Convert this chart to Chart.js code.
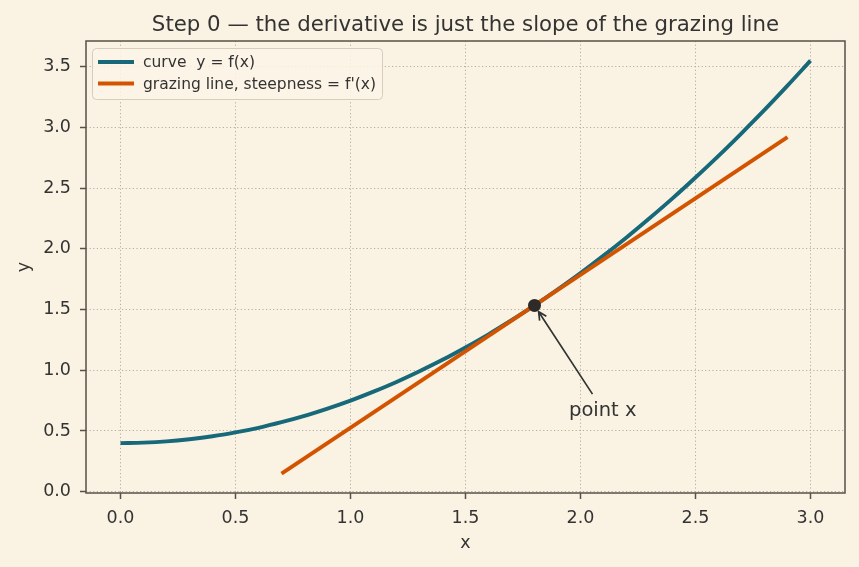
<!DOCTYPE html>
<html>
<head>
<meta charset="utf-8">
<script src="https://cdn.jsdelivr.net/npm/chart.js@4/dist/chart.umd.min.js"></script>
<style>
  html, body { margin: 0; padding: 0; background: #faf3e3; }
  #wrap { width: 859px; height: 567px; }
</style>
</head>
<body>
<div id="wrap"><canvas id="c" width="859" height="567"></canvas></div>
<script>
// ---- data ----
const curveX = [0.0, 0.1, 0.2, 0.3, 0.4, 0.5, 0.6, 0.7, 0.8, 0.9, 1.0, 1.1, 1.2, 1.3, 1.4, 1.5,
                1.6, 1.7, 1.8, 1.9, 2.0, 2.1, 2.2, 2.3, 2.4, 2.5, 2.6, 2.7, 2.8, 2.9, 3.0];
const curveY = [0.400, 0.404, 0.414, 0.432, 0.456, 0.488, 0.526, 0.572, 0.624, 0.684, 0.750,
                0.824, 0.904, 0.992, 1.086, 1.188, 1.296, 1.412, 1.534, 1.664, 1.800, 1.944,
                2.094, 2.252, 2.416, 2.588, 2.766, 2.952, 3.144, 3.344, 3.550];
const lineX = [0.7, 2.9];
const lineY = [0.148, 2.920];
const pointX = [1.8];
const pointY = [1.534];
const xTicks = [0.0, 0.5, 1.0, 1.5, 2.0, 2.5, 3.0];
const yTicks = [0.0, 0.5, 1.0, 1.5, 2.0, 2.5, 3.0, 3.5];
const xTickLabels = ['0.0', '0.5', '1.0', '1.5', '2.0', '2.5', '3.0'];
const yTickLabels = ['0.0', '0.5', '1.0', '1.5', '2.0', '2.5', '3.0', '3.5'];
const seriesNames = ['curve  y = f(x)', "grazing line, steepness = f'(x)"];
const titleText = 'Step 0 \u2014 the derivative is just the slope of the grazing line';
const xLabel = 'x';
const yLabel = 'y';
const annotText = 'point x';
const annotAt = [1.95, 0.625];

// ---- styles ----
const BG = '#faf3e3';
const TEAL = '#17697a';
const ORANGE = '#d35400';
const INK = '#333333';
const SPINE = '#5a5047';
const GRID = '#b5ada0';
const FONT = '"DejaVu Sans", "Liberation Sans", sans-serif';
const LW = 3.9;

const zip = (xs, ys) => xs.map((x, i) => ({ x: x, y: ys[i] }));

const bgPlugin = {
  id: 'bg',
  beforeDraw(chart) {
    const ctx = chart.ctx;
    ctx.save();
    ctx.fillStyle = BG;
    ctx.fillRect(0, 0, chart.width, chart.height);
    ctx.restore();
  }
};

const decoPlugin = {
  id: 'deco',
  afterDraw(chart) {
    const ctx = chart.ctx;
    const a = chart.chartArea;
    const xs = chart.scales.x, ys = chart.scales.y;
    ctx.save();
    // spines
    ctx.strokeStyle = SPINE;
    ctx.lineWidth = 1.5;
    ctx.strokeRect(a.left, a.top, a.right - a.left, a.bottom - a.top);

    // title
    ctx.fillStyle = INK;
    ctx.font = '21.3px ' + FONT;
    ctx.textAlign = 'center';
    ctx.textBaseline = 'alphabetic';
    ctx.fillText(titleText, (a.left + a.right) / 2, 30.5);

    // axis labels
    ctx.font = '17.5px ' + FONT;
    ctx.textBaseline = 'middle';
    ctx.fillText(xLabel, (a.left + a.right) / 2, 543);
    ctx.save();
    ctx.translate(24, (a.top + a.bottom) / 2);
    ctx.rotate(-Math.PI / 2);
    ctx.fillText(yLabel, 0, 0);
    ctx.restore();

    // legend
    const lx = 92.5, ly = 48.5, lw = 290, lh = 51;
    ctx.beginPath();
    ctx.roundRect(lx, ly, lw, lh, 4);
    ctx.fillStyle = 'rgba(251,245,232,0.85)';
    ctx.fill();
    ctx.strokeStyle = '#d6cdbc';
    ctx.lineWidth = 1;
    ctx.stroke();
    const cols = [TEAL, ORANGE];
    const rows = [62, 83.5];
    ctx.font = '15.5px ' + FONT;
    ctx.textAlign = 'left';
    ctx.textBaseline = 'middle';
    for (let i = 0; i < 2; i++) {
      ctx.beginPath();
      ctx.moveTo(98, rows[i]);
      ctx.lineTo(134, rows[i]);
      ctx.strokeStyle = cols[i];
      ctx.lineWidth = LW;
      ctx.stroke();
      ctx.fillStyle = INK;
      ctx.fillText(seriesNames[i], 143, rows[i] + 1);
    }

    // annotation
    const tx = xs.getPixelForValue(annotAt[0]);
    const ty = ys.getPixelForValue(annotAt[1]);
    ctx.font = '19.5px ' + FONT;
    ctx.textAlign = 'left';
    ctx.textBaseline = 'alphabetic';
    ctx.fillStyle = INK;
    ctx.fillText(annotText, tx, ty);
    const tw = ctx.measureText(annotText).width;
    const cx = tx + tw / 2, cy = ty - 6;
    const px = xs.getPixelForValue(pointX[0]);
    const py = ys.getPixelForValue(pointY[0]);
    const dx = px - cx, dy = py - cy;
    const len = Math.hypot(dx, dy);
    const ux = dx / len, uy = dy / len;
    const topEdge = ty - 20;
    const t0 = (cy - topEdge) / -uy + 2;
    const sx = cx + ux * t0, sy = cy + uy * t0;
    const ex = px - ux * 7.5, ey = py - uy * 7.5;
    ctx.strokeStyle = INK;
    ctx.lineWidth = 1.7;
    ctx.beginPath();
    ctx.moveTo(sx, sy);
    ctx.lineTo(ex, ey);
    // open arrow head
    const hl = 8, hw = 4;
    const bx = ex - ux * hl, by = ey - uy * hl;
    ctx.moveTo(bx - uy * hw, by + ux * hw);
    ctx.lineTo(ex, ey);
    ctx.lineTo(bx + uy * hw, by - ux * hw);
    ctx.stroke();
    ctx.restore();
  }
};

new Chart(document.getElementById('c'), {
  type: 'line',
  data: {
    datasets: [
      {
        label: 'point',
        data: zip(pointX, pointY),
        showLine: false,
        pointRadius: 6.5,
        pointBackgroundColor: '#2e2a27',
        pointBorderColor: '#2e2a27',
        pointBorderWidth: 0,
        order: 0
      },
      {
        label: seriesNames[1],
        data: zip(lineX, lineY),
        borderColor: ORANGE,
        borderWidth: LW,
        pointRadius: 0,
        fill: false,
        order: 1
      },
      {
        label: seriesNames[0],
        data: zip(curveX, curveY),
        borderColor: TEAL,
        borderWidth: LW,
        pointRadius: 0,
        cubicInterpolationMode: 'monotone',
        fill: false,
        order: 2
      }
    ]
  },
  options: {
    responsive: false,
    animation: false,
    events: [],
    layout: { padding: { top: 41, right: 14, left: 0, bottom: 0 } },
    plugins: {
      legend: { display: false },
      title: { display: false },
      tooltip: { enabled: false }
    },
    scales: {
      x: {
        type: 'linear',
        min: -0.15,
        max: 3.15,
        afterFit: (s) => { s.height = 74; },
        afterBuildTicks: (s) => { s.ticks = xTicks.map(v => ({ value: v })); },
        ticks: {
          color: INK,
          font: { family: FONT, size: 17.5 },
          padding: 9,
          maxRotation: 0,
          autoSkip: false,
          callback: (v, i) => xTickLabels[i]
        },
        grid: {
          color: GRID,
          lineWidth: 1,
          drawTicks: true,
          tickLength: 6,
          tickColor: SPINE,
          tickWidth: 1.5
        },
        border: { display: false, dash: [1.2, 2.4] }
      },
      y: {
        type: 'linear',
        min: -0.011,
        max: 3.712,
        afterFit: (s) => { s.width = 86; },
        afterBuildTicks: (s) => { s.ticks = yTicks.map(v => ({ value: v })); },
        ticks: {
          color: INK,
          font: { family: FONT, size: 17.5 },
          padding: 9,
          autoSkip: false,
          callback: (v, i) => yTickLabels[i]
        },
        grid: {
          color: GRID,
          lineWidth: 1,
          drawTicks: true,
          tickLength: 6,
          tickColor: SPINE,
          tickWidth: 1.5
        },
        border: { display: false, dash: [1.2, 2.4] }
      }
    }
  },
  plugins: [bgPlugin, decoPlugin]
});
</script>
</body>
</html>
